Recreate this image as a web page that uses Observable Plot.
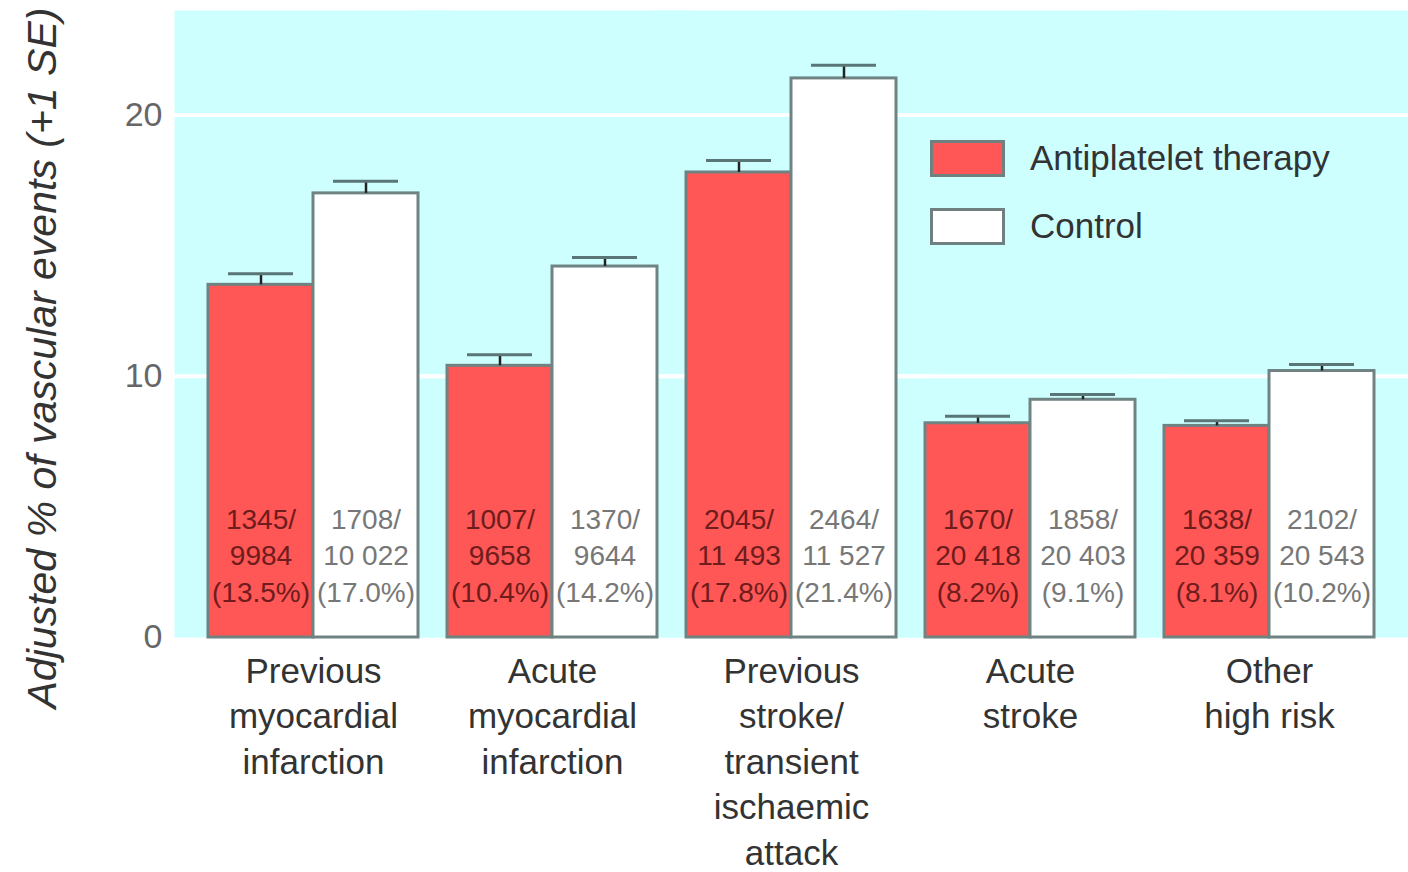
<!DOCTYPE html>
<html>
<head>
<meta charset="utf-8">
<script src="https://cdn.jsdelivr.net/npm/d3@7"></script>
<script src="https://cdn.jsdelivr.net/npm/@observablehq/plot@0.6"></script>
<style>
  html, body { margin: 0; padding: 0; background: #ffffff; }
  #wrap { position: relative; width: 1408px; height: 872px; overflow: hidden; font-family: "Liberation Sans", Arial, sans-serif; }
  #ylabel { position: absolute; left: 42px; top: 358px; transform: translate(-50%, -50%) rotate(-90deg); white-space: nowrap; font-style: italic; font-size: 41px; color: #333; }
  .leg { position: absolute; left: 930px; display: flex; align-items: center; }
  .sw { width: 69px; height: 31px; border: 3px solid #6f8080; box-sizing: content-box; }
  .lt { margin-left: 25px; font-size: 35px; color: #333; }
</style>
</head>
<body>
<div id="wrap">
  <div id="chart"></div>
  <div id="ylabel">Adjusted % of vascular events (+1 SE)</div>
  <div class="leg" style="top:138px"><div class="sw" style="background:#ff5656"></div><div class="lt">Antiplatelet therapy</div></div>
  <div class="leg" style="top:206px"><div class="sw" style="background:#ffffff"></div><div class="lt">Control</div></div>
</div>
<script>
const categories = [
  "Previous\nmyocardial\ninfarction",
  "Acute\nmyocardial\ninfarction",
  "Previous\nstroke/\ntransient\nischaemic\nattack",
  "Acute\nstroke",
  "Other\nhigh risk"
];
const series = ["Antiplatelet therapy", "Control"];
const antiPct = [13.5, 10.4, 17.8, 8.2, 8.1];
const controlPct = [17.0, 14.2, 21.4, 9.1, 10.2];
const antiSE = [0.42, 0.42, 0.46, 0.27, 0.2];
const controlSE = [0.46, 0.35, 0.5, 0.2, 0.25];
const antiEvents = [1345, 1007, 2045, 1670, 1638];
const antiTotal = [9984, 9658, 11493, 20418, 20359];
const controlEvents = [1708, 1370, 2464, 1858, 2102];
const controlTotal = [10022, 9644, 11527, 20403, 20543];
const yTicks = [0, 10, 20];
const gridValues = [10, 20];

const fmtN = n => { const s = String(n); return s.length > 4 ? s.slice(0, s.length - 3) + " " + s.slice(-3) : s; };

const data = [];
categories.forEach((c, i) => {
  data.push({cat: c, series: series[0], value: antiPct[i], se: antiSE[i], events: antiEvents[i], total: antiTotal[i]});
  data.push({cat: c, series: series[1], value: controlPct[i], se: controlSE[i], events: controlEvents[i], total: controlTotal[i]});
});
data.forEach(d => {
  d.top = d.value + d.se;
  d.label = `${d.events}/\n${fmtN(d.total)}\n(${d.value.toFixed(1)}%)`;
});

const ff = "Liberation Sans, Arial, sans-serif";

const chart = Plot.plot({
  width: 1408,
  height: 872,
  marginLeft: 175,
  marginRight: 0,
  marginTop: 10,
  marginBottom: 235,
  style: {fontFamily: ff, background: "transparent", overflow: "visible"},
  fx: {domain: categories, paddingInner: 0.121, paddingOuter: 0.13, label: null},
  x: {domain: series, padding: 0, axis: null},
  y: {domain: [0, 24]},
  color: {domain: series, range: ["#ff5656", "#ffffff"]},
  marks: [
    Plot.frame({fill: "#cdffff", stroke: null, insetLeft: -34, insetRight: -34}),
    Plot.ruleY(gridValues, {stroke: "#ffffff", strokeWidth: 4, insetLeft: -34, insetRight: -34}),
    Plot.barY(data, {fx: "cat", x: "series", y: "value", fill: "series", stroke: "#6f8383", strokeWidth: 3}),
    Plot.ruleX(data, {fx: "cat", x: "series", y1: "value", y2: "top", stroke: "#222", strokeWidth: 2.5}),
    Plot.tickY(data, {fx: "cat", x: "series", y: "top", stroke: "#5a7575", strokeWidth: 3, insetLeft: 20, insetRight: 20}),
    Plot.text(data, {fx: "cat", x: "series", text: "label", frameAnchor: "bottom", dy: -84, lineAnchor: "middle",
      lineHeight: 1.3, fontSize: 28, fill: d => d.series === series[0] ? "#6e1c1c" : "#777777"}),
    Plot.axisFx({anchor: "bottom", tickSize: 0, tickPadding: 13, fontSize: 35, lineHeight: 1.3, color: "#333", label: null, fontFamily: ff}),
    Plot.axisY({ticks: yTicks, tickSize: 0, tickPadding: 46, fontSize: 34, color: "#666", label: null, fontFamily: ff})
  ]
});
document.getElementById("chart").appendChild(chart);
</script>
</body>
</html>
